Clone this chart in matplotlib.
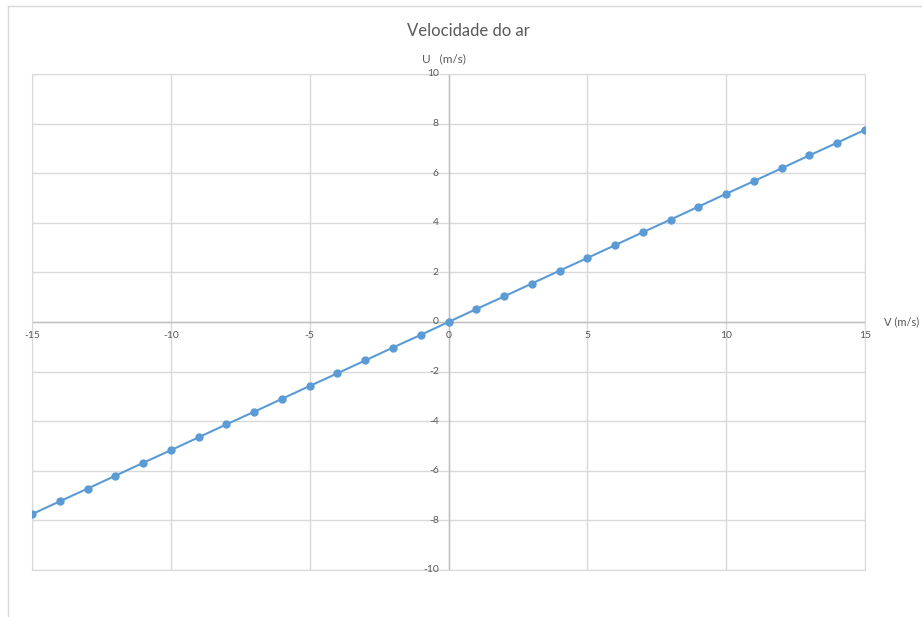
import matplotlib.pyplot as plt
from matplotlib.lines import Line2D

plt.rcParams['font.family'] = ['Lato', 'DejaVu Sans']

v = [-15, -14, -13, -12, -11, -10, -9, -8, -7, -6, -5, -4, -3, -2, -1, 0,
     1, 2, 3, 4, 5, 6, 7, 8, 9, 10, 11, 12, 13, 14, 15]
u = [-7.75, -7.23, -6.72, -6.20, -5.68, -5.17, -4.65, -4.13, -3.62, -3.10,
     -2.58, -2.07, -1.55, -1.03, -0.52, 0.0,
     0.52, 1.03, 1.55, 2.07, 2.58, 3.10, 3.62, 4.13, 4.65, 5.17, 5.68,
     6.20, 6.72, 7.23, 7.75]
x_ticks = [-15, -10, -5, 0, 5, 10, 15]
y_ticks = [-10, -8, -6, -4, -2, 0, 2, 4, 6, 8, 10]

cor = '#5b9bd5'
grade = '#d9d9d9'
texto = '#595959'

fig = plt.figure(figsize=(9.22, 6.17), dpi=100)
ax = fig.add_axes([32 / 922, 47 / 617, 833 / 922, 496 / 617])

ax.set_xlim(-15, 15)
ax.set_ylim(-10, 10)
ax.set_xticks(x_ticks)
ax.set_yticks(y_ticks)
ax.grid(True, color=grade, linewidth=1)
ax.set_axisbelow(True)
for s in ax.spines.values():
    s.set_color(grade)
ax.tick_params(length=0, labelbottom=False, labelleft=False)

# eixos no zero
ax.axhline(0, color='#bfbfbf', linewidth=1, zorder=1)
ax.axvline(0, color='#bfbfbf', linewidth=1, zorder=1)

for xt in x_ticks:
    ax.text(xt, -0.35, str(xt), ha='center', va='top', fontsize=7.5, color=texto)
for yt in y_ticks:
    ax.text(-0.35, yt, str(yt), ha='right', va='center', fontsize=7.5, color=texto)

ax.plot(v, u, color=cor, linewidth=1.5, marker='o', markersize=5, zorder=3)

ax.text(-0.15, 10.4, 'U   (m/s)', ha='center', va='bottom', fontsize=8.5, color=texto)
ax.text(15.7, 0, 'V (m/s)', ha='left', va='center', fontsize=8, color=texto,
        clip_on=False)

fig.text(0.508, 1 - 31 / 617, 'Velocidade do ar', ha='center', va='center',
         fontsize=12, color=texto)

# moldura do gráfico
fig.add_artist(Line2D([8 / 922, 1], [1 - 6 / 617, 1 - 6 / 617], color=grade, linewidth=1))
fig.add_artist(Line2D([8 / 922, 8 / 922], [0, 1 - 6 / 617], color=grade, linewidth=1))

fig.savefig('out.png', dpi=100)
